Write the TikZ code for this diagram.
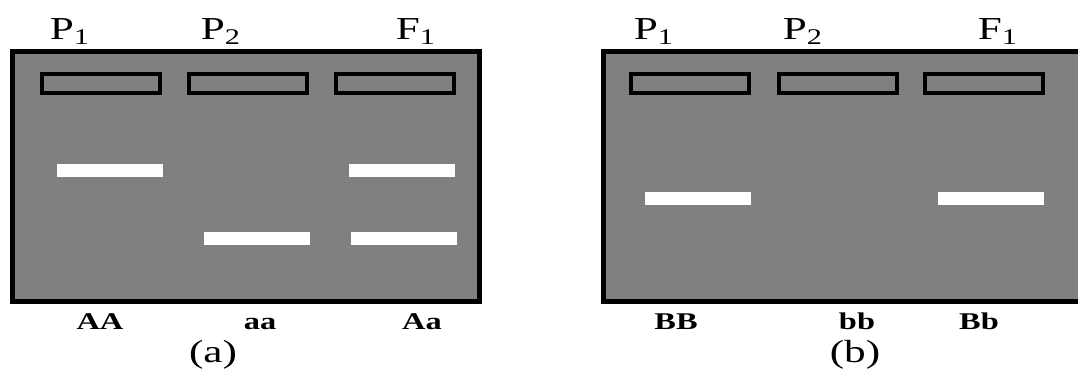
\documentclass[tikz,border=0pt]{standalone}
\usepackage{fontspec}
\setmainfont{Liberation Serif}[FakeStretch=1.35]
\definecolor{GelGrey}{HTML}{808080}

\begin{document}
\begin{tikzpicture}[x=0.5pt,y=-0.5pt,
every node/.style={inner sep=0pt,outer sep=0pt},
gel/.style={draw=black,line width=2.5pt,fill=GelGrey,minimum height=125pt},
well/.style={draw=black,line width=2pt,fill=GelGrey,minimum width=59pt,minimum height=9.5pt},
band/.style={fill=white,minimum width=53pt,minimum height=6.5pt},
lane/.style={anchor=base,font=\fontsize{16}{19}\selectfont},
geno/.style={anchor=base,font=\fontsize{12}{14}\selectfont\bfseries},
panel/.style={anchor=base,font=\fontsize{16}{19}\selectfont}]
\useasboundingbox (0,0) rectangle (1078,370);
% gel (a)
\node[gel,minimum width=233.5pt] (gelA) at (246,176.5) {};
\node[well] (wellA1) at (101,83.5) {};
\node[well] (wellA2) at (247.5,83.5) {};
\node[well] (wellA3) at (394.5,83.5) {};
\node[band] (bandA1) at (109.5,170) {};
\node[band] (bandA2) at (256.5,238) {};
\node[band] (bandA3) at (401.5,170) {};
\node[band] (bandA4) at (404,238) {};
\node[lane] (laneA1) at (70,39) {P\textsubscript{1}};
\node[lane] (laneA2) at (221,39) {P\textsubscript{2}};
\node[lane] (laneA3) at (416,39) {F\textsubscript{1}};
\node[geno] (genoA1) at (100,329) {AA};
\node[geno] (genoA2) at (260,329) {aa};
\node[geno] (genoA3) at (422,329) {Aa};
\node[panel] (capA) at (213,362) {(a)};
% gel (b)
\node[gel,minimum width=248.25pt] (gelB) at (851.75,176.5) {};
\node[well] (wellB1) at (689.5,83.5) {};
\node[well] (wellB2) at (837.5,83.5) {};
\node[well] (wellB3) at (983.5,83.5) {};
\node[band] (bandB1) at (698,198) {};
\node[band] (bandB2) at (990.5,198) {};
\node[lane] (laneB1) at (654,39) {P\textsubscript{1}};
\node[lane] (laneB2) at (803,39) {P\textsubscript{2}};
\node[lane] (laneB3) at (998,39) {F\textsubscript{1}};
\node[geno] (genoB1) at (676,329) {BB};
\node[geno] (genoB2) at (857,329) {bb};
\node[geno] (genoB3) at (979,329) {Bb};
\node[panel] (capB) at (855,362) {(b)};
\end{tikzpicture}
\end{document}
